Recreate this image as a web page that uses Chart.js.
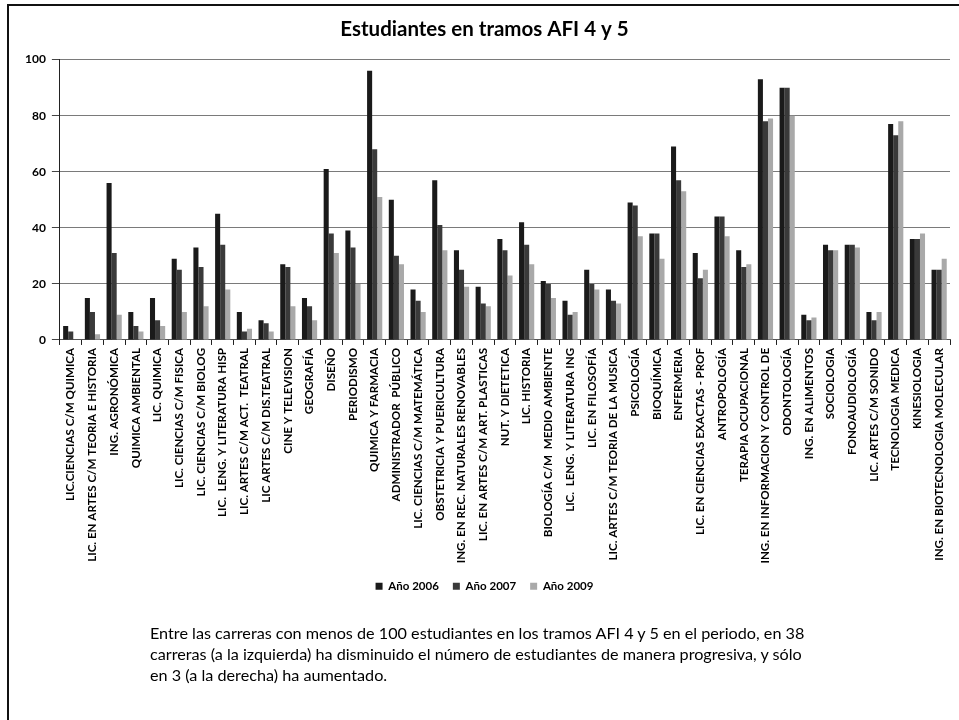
<!DOCTYPE html>
<html>
<head>
<meta charset="utf-8">
<script src="https://cdn.jsdelivr.net/npm/chart.js@4.4.1/dist/chart.umd.min.js"></script>
<style>
  body { margin: 0; background: #fff; }
  #wrap { position: relative; width: 959px; height: 720px; overflow: hidden; }
  #frame { position: absolute; left: 7px; top: 4px; width: 1000px; height: 800px;
           border-left: 2px solid #111; border-top: 2px solid #111; }
  #note { position: absolute; left: 150px; top: 622px; width: 760px;
          font: 16.2px Lato, "Open Sans", sans-serif; line-height: 21px; color: #000; }
</style>
</head>
<body>
<div id="wrap">
  <div id="frame"></div>
  <canvas id="afi_Chart" width="959" height="720"></canvas>
  <div id="note">Entre las carreras con menos de 100 estudiantes en los tramos AFI 4 y 5 en el periodo, en 38<br>carreras (a la izquierda) ha disminuido el número de estudiantes de manera progresiva, y sólo<br>en 3 (a la derecha) ha aumentado.</div>
</div>
<script>
// Carreras (eje x)
const carreras = [
    'LIC.CIENCIAS C/M QUIMICA', 'LIC. EN ARTES C/M TEORIA E HISTORIA', 'ING. AGRONÓMICA',
    'QUIMICA AMBIENTAL', 'LIC. QUIMICA', 'LIC. CIENCIAS C/M FISICA', 'LIC. CIENCIAS C/M BIOLOG',
    'LIC.  LENG. Y LITERATURA HISP', 'LIC. ARTES C/M ACT.  TEATRAL', 'LIC ARTES C/M DIS.TEATRAL',
    'CINE Y TELEVISION', 'GEOGRAFÍA', 'DISEÑO', 'PERIODISMO', 'QUIMICA Y FARMACIA',
    'ADMINISTRADOR  PÚBLICO', 'LIC. CIENCIAS C/M MATEMÁTICA', 'OBSTETRICIA Y PUERICULTURA',
    'ING. EN REC. NATURALES RENOVABLES', 'LIC. EN ARTES C/M ART. PLASTICAS', 'NUT. Y DIETETICA',
    'LIC. HISTORIA', 'BIOLOGÍA C/M  MEDIO AMBIENTE', 'LIC.  LENG. Y LITERATURA ING',
    'LIC. EN FILOSOFÍA', 'LIC. ARTES C/M TEORIA DE LA MUSICA', 'PSICOLOGÍA', 'BIOQUÍMICA',
    'ENFERMERIA', 'LIC. EN CIENCIAS EXACTAS - PROF', 'ANTROPOLOGÍA', 'TERAPIA OCUPACIONAL',
    'ING. EN INFORMACION Y CONTROL DE', 'ODONTOLOGÍA', 'ING. EN ALIMENTOS', 'SOCIOLOGIA',
    'FONOAUDIOLOGÍA', 'LIC. ARTES C/M SONIDO', 'TECNOLOGIA MEDICA', 'KINESIOLOGIA',
    'ING. EN BIOTECNOLOGIA MOLECULAR'
]

// Estudiantes por año
const anio_2006 = [5, 15, 56, 10, 15, 29, 33, 45, 10, 7, 27, 15, 61, 39, 96, 50, 18, 57, 32, 19, 36,
                   42, 21, 14, 25, 18, 49, 38, 69, 31, 44, 32, 93, 90, 9, 34, 34, 10, 77, 36, 25]
const anio_2007 = [3, 10, 31, 5, 7, 25, 26, 34, 3, 6, 26, 12, 38, 33, 68, 30, 14, 41, 25, 13, 32,
                   34, 20, 9, 20, 14, 48, 38, 57, 22, 44, 26, 78, 90, 7, 32, 34, 7, 73, 36, 25]
const anio_2009 = [0, 2, 9, 3, 5, 10, 12, 18, 4, 3, 12, 7, 31, 20, 51, 27, 10, 32, 19, 12, 23,
                   27, 15, 10, 18, 13, 37, 29, 53, 25, 37, 27, 79, 80, 8, 32, 33, 10, 78, 38, 29]

const y_ticks = [0, 20, 40, 60, 80, 100]

const font_family = 'Lato, "Open Sans", sans-serif'

const ctx = document.getElementById('afi_Chart').getContext('2d');
const afi_chart = new Chart(ctx,
    {
        type: 'bar',
        data: {
            labels: carreras,
            datasets: [
                { label: 'Año 2006', backgroundColor: '#1a1a1a', data: anio_2006 },
                { label: 'Año 2007', backgroundColor: '#3a3a3a', data: anio_2007 },
                { label: 'Año 2009', backgroundColor: '#a9a9a9', data: anio_2009 }
            ]
        },
        options: {
            responsive: false,
            animation: false,
            layout: { padding: { left: 19, right: 9, top: 13, bottom: 118 } },
            datasets: { bar: { categoryPercentage: 0.7, barPercentage: 1.0 } },
            plugins: {
                title: {
                    display: true,
                    text: 'Estudiantes en tramos AFI 4 y 5',
                    color: '#000',
                    font: { family: font_family, size: 20.5, weight: 'bold' },
                    padding: { top: 4, bottom: 18 }
                },
                legend: {
                    position: 'bottom',
                    labels: {
                        color: '#000',
                        boxWidth: 7, boxHeight: 7,
                        font: { family: font_family, size: 11.5, weight: 'bold' },
                        padding: 14
                    }
                },
                tooltip: { enabled: false }
            },
            scales: {
                x: {
                    grid: { display: true, drawOnChartArea: false, drawTicks: true, tickLength: 5, color: '#222', offset: true },
                    border: { color: '#555' },
                    ticks: {
                        color: '#000',
                        autoSkip: false,
                        maxRotation: 90, minRotation: 90,
                        font: { family: font_family, size: 11.6, weight: 'bold' }
                    }
                },
                y: {
                    min: 0, max: 100,
                    afterBuildTicks: (scale) => { scale.ticks = y_ticks.map(v => ({ value: v })) },
                    grid: { color: '#7a7a7a', tickLength: 8, tickColor: '#444' },
                    border: { color: '#222', dash: [] },
                    ticks: {
                        color: '#000', padding: 6,
                        font: { family: font_family, size: 12, weight: 'bold' }
                    }
                }
            }
        }
    })
</script>
</body>
</html>
